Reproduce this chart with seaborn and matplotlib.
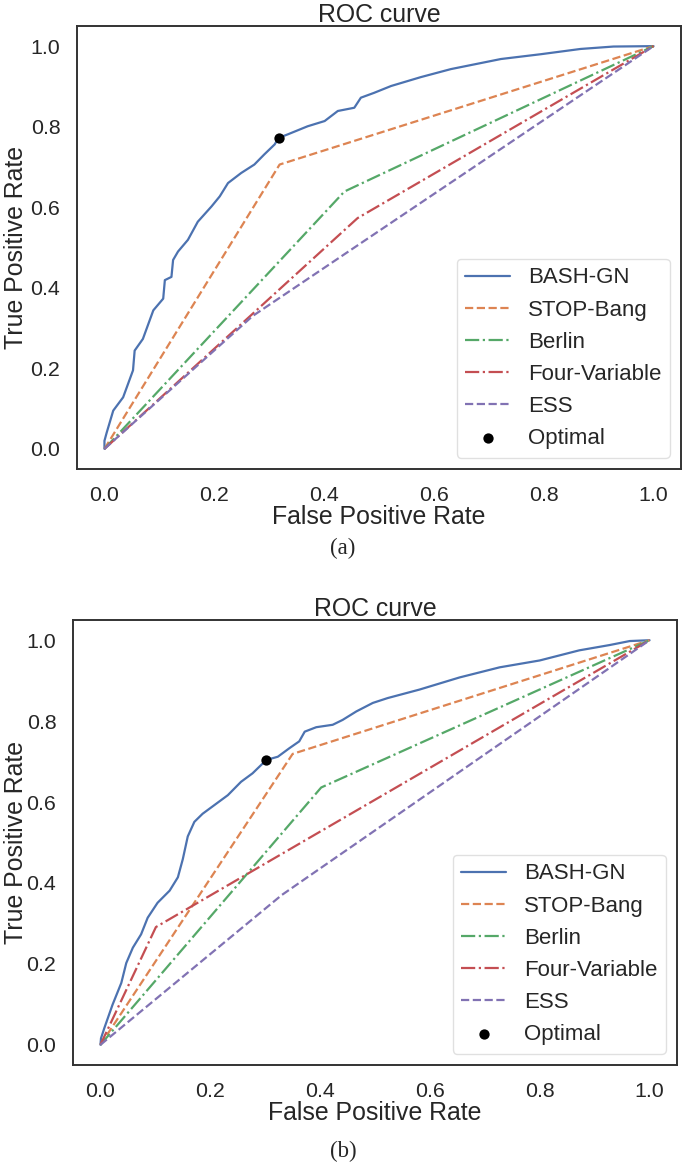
"""
ROC egrileri - iki panel (a) ve (b)
"""
import matplotlib
matplotlib.use("Agg")
import matplotlib.pyplot as plt
import seaborn as sns

sns.set_theme(style="white")
plt.rcParams['font.family'] = ['Liberation Sans', 'DejaVu Sans']

# Veri - panel (a)
bash_fpr_a = [0, 0.0, 0.004, 0.016, 0.034, 0.052, 0.055, 0.070, 0.089, 0.107, 0.110, 0.122,
              0.125, 0.134, 0.152, 0.170, 0.195, 0.210, 0.225, 0.249, 0.273, 0.291, 0.310,
              0.317, 0.334, 0.370, 0.401, 0.425, 0.455, 0.467, 0.491, 0.522, 0.576, 0.631,
              0.722, 0.795, 0.867, 0.927, 1.0]
bash_tpr_a = [0, 0.02, 0.04, 0.095, 0.128, 0.195, 0.244, 0.273, 0.344, 0.373, 0.419, 0.427,
              0.469, 0.49, 0.519, 0.564, 0.602, 0.627, 0.660, 0.685, 0.706, 0.731, 0.756,
              0.772, 0.781, 0.801, 0.814, 0.839, 0.847, 0.872, 0.884, 0.901, 0.923, 0.943,
              0.968, 0.980, 0.993, 0.999, 1.0]
stop_fpr_a = [0, 0.319, 1]
stop_tpr_a = [0, 0.706, 1]
berlin_fpr_a = [0, 0.437, 1]
berlin_tpr_a = [0, 0.639, 1]
four_fpr_a = [0, 0.461, 1]
four_tpr_a = [0, 0.573, 1]
ess_fpr_a = [0, 0.27, 1]
ess_tpr_a = [0, 0.33, 1]
opt_a = (0.317, 0.772)

# Veri - panel (b)
bash_fpr_b = [0, 0.001, 0.007, 0.022, 0.038, 0.047, 0.059, 0.074, 0.086, 0.104, 0.126, 0.141,
              0.150, 0.159, 0.171, 0.186, 0.211, 0.232, 0.256, 0.277, 0.296, 0.302, 0.323,
              0.344, 0.362, 0.372, 0.393, 0.423, 0.441, 0.466, 0.496, 0.523, 0.581, 0.654,
              0.727, 0.800, 0.872, 0.927, 0.964, 1.0]
bash_tpr_b = [0, 0.016, 0.041, 0.099, 0.153, 0.202, 0.240, 0.273, 0.314, 0.351, 0.381, 0.414,
              0.459, 0.515, 0.551, 0.571, 0.596, 0.617, 0.650, 0.671, 0.696, 0.704, 0.712,
              0.733, 0.750, 0.774, 0.785, 0.791, 0.803, 0.824, 0.845, 0.857, 0.878, 0.908,
              0.933, 0.950, 0.975, 0.988, 0.998, 1.0]
stop_fpr_b = [0, 0.350, 1]
stop_tpr_b = [0, 0.719, 1]
berlin_fpr_b = [0, 0.402, 1]
berlin_tpr_b = [0, 0.636, 1]
four_fpr_b = [0, 0.101, 1]
four_tpr_b = [0, 0.291, 1]
ess_fpr_b = [0, 0.33, 1]
ess_tpr_b = [0, 0.37, 1]
opt_b = (0.302, 0.704)

models = ["BASH-GN", "STOP-Bang", "Berlin", "Four-Variable", "ESS"]
styles = ["-", "--", "-.", "-.", "--"]
colors = sns.color_palette("deep")


def draw_panel(ax, curves, opt, ylabelpad):
    for (fpr, tpr), name, ls, c in zip(curves, models, styles, colors):
        sns.lineplot(x=fpr, y=tpr, ax=ax, sort=False, estimator=None,
                     color=c, linestyle=ls, linewidth=1.6, label=name)
    sns.scatterplot(x=[opt[0]], y=[opt[1]], ax=ax, color="black", s=55,
                    edgecolor="black", linewidth=0, label="Optimal", zorder=5)
    ax.set_xlim(-0.05, 1.05)
    ax.set_ylim(-0.05, 1.05)
    ax.set_xticks([0, 0.2, 0.4, 0.6, 0.8, 1.0])
    ax.set_yticks([0, 0.2, 0.4, 0.6, 0.8, 1.0])
    ax.tick_params(labelsize=15.4, pad=6)
    ax.set_xlabel("False Positive Rate", fontsize=17.9, labelpad=0)
    ax.set_ylabel("True Positive Rate", fontsize=17.9, labelpad=ylabelpad)
    ax.set_title("ROC curve", fontsize=17.9, pad=3)
    for s in ax.spines.values():
        s.set_color("0.2")
        s.set_linewidth(1.4)
    ax.legend(loc="lower right", fontsize=16, labelspacing=0.5,
              frameon=True, edgecolor="0.85")


fig = plt.figure(figsize=(6.85, 11.69), dpi=100)
ax_a = fig.add_axes([77 / 685, 1 - 469 / 1169, 604 / 685, 443 / 1169])
ax_b = fig.add_axes([73 / 685, 1 - 1065 / 1169, 604 / 685, 445 / 1169])

draw_panel(ax_a, [(bash_fpr_a, bash_tpr_a), (stop_fpr_a, stop_tpr_a),
                  (berlin_fpr_a, berlin_tpr_a), (four_fpr_a, four_tpr_a),
                  (ess_fpr_a, ess_tpr_a)], opt_a, 2)
draw_panel(ax_b, [(bash_fpr_b, bash_tpr_b), (stop_fpr_b, stop_tpr_b),
                  (berlin_fpr_b, berlin_tpr_b), (four_fpr_b, four_tpr_b),
                  (ess_fpr_b, ess_tpr_b)], opt_b, -1)

fig.text(343 / 685, 1 - 548 / 1169, "(a)", ha="center", va="center",
         family="Liberation Serif", fontsize=16.5)
fig.text(343 / 685, 1 - 1151 / 1169, "(b)", ha="center", va="center",
         family="Liberation Serif", fontsize=16.5)

fig.savefig("out.png", dpi=100)
plt.close(fig)
